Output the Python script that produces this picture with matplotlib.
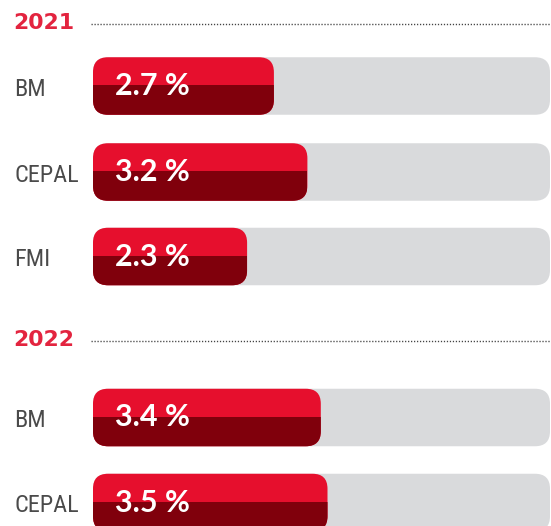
import matplotlib
matplotlib.use("Agg")
import matplotlib.pyplot as plt
from matplotlib.patches import FancyBboxPatch, Rectangle
from matplotlib import font_manager as fm

# ---- data ----
years = ["2021", "2022"]
sources_2021 = ["BM", "CEPAL", "FMI"]
values_2021 = [2.7, 3.2, 2.3]
sources_2022 = ["BM", "CEPAL"]
values_2022 = [3.4, 3.5]

# ---- style / layout ----
RED = "#e60f2d"
DARK = "#80000c"
GRAY = "#d9dadc"
HEAD = "#e3243f"
LBL = "#4a4a4a"

available = {f.name for f in fm.fontManager.ttflist}
LABEL_FONT = "Roboto"
LABEL_SIZE = 15.5
for cand, size in [("Roboto Condensed", 17.5), ("Liberation Sans Narrow", 17.5),
                   ("Arial Narrow", 17.5)]:
    if cand in available:
        LABEL_FONT, LABEL_SIZE = cand, size
        break

W, H = 551, 526
PX_PER_UNIT = 67.0
X0 = 93.0  # pixel position of value 0
fig = plt.figure(figsize=(W / 100, H / 100), dpi=100)
ax = fig.add_axes([0, 0, 1, 1])
ax.set_xlim(-X0 / PX_PER_UNIT, (W - X0) / PX_PER_UNIT)
ax.set_ylim(H, 0)
ax.axis("off")

BAR_H = 57.5
RADIUS_PX = 15.0
r_units = RADIUS_PX / PX_PER_UNIT
aspect = PX_PER_UNIT  # y units per x unit
XMAX = (W - X0 - 1) / PX_PER_UNIT


def px(p):
    return p / PX_PER_UNIT


def rounded(x0, x1, yc, color, z):
    p = FancyBboxPatch((x0, yc - BAR_H / 2), x1 - x0, BAR_H,
                       boxstyle=f"round,pad=0,rounding_size={r_units}",
                       mutation_aspect=aspect, facecolor=color,
                       edgecolor="none", zorder=z)
    ax.add_patch(p)
    return p


def draw_group(year, header_y, sources, values, row_ys):
    ax.text(px(13 - X0), header_y + 8, year,
            fontsize=15.8, fontweight="bold", color=HEAD,
            family="DejaVu Sans", va="baseline", ha="left")
    ax.plot([px(-2), XMAX + 1], [header_y + 3, header_y + 3],
            linestyle=(0, (0.9, 1.25)), color="#444444", lw=1.0)
    for src, val, yc in zip(sources, values, row_ys):
        ax.text(px(14 - X0), yc + 9.7, src,
                fontsize=LABEL_SIZE, color=LBL, family=LABEL_FONT,
                va="baseline", ha="left")
        rounded(0, XMAX, yc, GRAY, 1)
        bar = rounded(0, val, yc, RED, 2)
        dark = Rectangle((0, yc - 1), val, BAR_H, facecolor=DARK,
                         edgecolor="none", zorder=3)
        ax.add_patch(dark)
        dark.set_clip_path(bar)
        ax.text(px(22), yc + 9, f"{val} %", fontsize=22,
                fontweight="bold", color="white", family="Lato",
                va="baseline", ha="left", zorder=4)


draw_group(years[0], 21, sources_2021, values_2021, [86, 172, 256.5])
draw_group(years[1], 337.5, sources_2022, values_2022, [417.5, 502.5])

fig.savefig("out.png", dpi=100)
